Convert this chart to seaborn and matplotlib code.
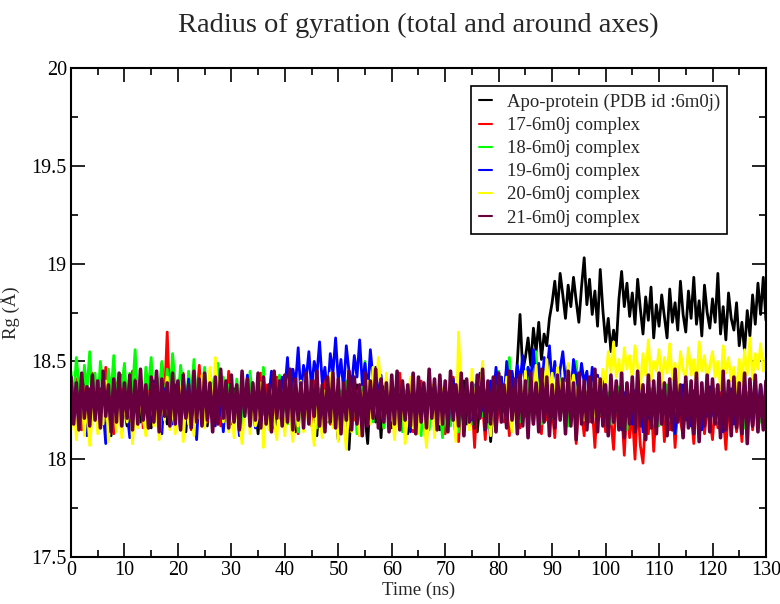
import numpy as np
import pandas as pd
import matplotlib
matplotlib.use("Agg")
import matplotlib.pyplot as plt
from matplotlib.ticker import MultipleLocator
import seaborn as sns

series_names = ["Apo-protein (PDB id :6m0j)", "17-6m0j complex", "18-6m0j complex",
                "19-6m0j complex", "20-6m0j complex", "21-6m0j complex"]
series_colors = ["#000000", "#ff0000", "#00ff00", "#0000ff", "#ffff00", "#680040"]

rg_apo = [
    18.31, 18.22, 18.35, 18.19, 18.28, 18.40, 18.24, 18.15, 18.33, 18.27,
    18.21, 18.36, 18.18, 18.30, 18.25, 18.12, 18.34, 18.29, 18.20, 18.38,
    18.26, 18.17, 18.32, 18.23, 18.41, 18.28, 18.19, 18.35, 18.24, 18.30,
    18.16, 18.33, 18.27, 18.39, 18.22, 18.31, 18.18, 18.36, 18.25, 18.29,
    18.34, 18.21, 18.28, 18.14, 18.37, 18.26, 18.32, 18.19, 18.40, 18.23,
    18.30, 18.17, 18.35, 18.27, 18.22, 18.38, 18.20, 18.33, 18.25, 18.29,
    18.18, 18.36, 18.24, 18.31, 18.15, 18.34, 18.28, 18.21, 18.39, 18.26,
    18.13, 18.30, 18.23, 18.37, 18.19, 18.32, 18.27, 18.16, 18.35, 18.24,
    18.29, 18.20, 18.38, 18.25, 18.14, 18.33, 18.28, 18.22, 18.36, 18.19,
    18.31, 18.26, 18.12, 18.34, 18.23, 18.39, 18.27, 18.18, 18.30, 18.24,
    18.10, 18.33, 18.21, 18.36, 18.05, 18.29, 18.25, 18.38, 18.17, 18.31,
    18.22, 18.08, 18.35, 18.27, 18.19, 18.32, 18.11, 18.37, 18.24, 18.29,
    18.16, 18.34, 18.26, 18.21, 18.39, 18.28, 18.13, 18.33, 18.23, 18.30,
    18.19, 18.36, 18.25, 18.10, 18.31, 18.27, 18.38, 18.22, 18.15, 18.34,
    18.28, 18.20, 18.37, 18.24, 18.12, 18.32, 18.26, 18.40, 18.18, 18.30,
    18.23, 18.35, 18.14, 18.29, 18.38, 18.21, 18.33, 18.09, 18.27, 18.36,
    18.25, 18.42, 18.30, 18.47, 18.36, 18.44, 18.33, 18.50, 18.74, 18.45,
    18.52, 18.62, 18.48, 18.67, 18.55, 18.70, 18.51, 18.64, 18.58, 18.72,
    18.80, 18.91, 18.76, 18.95, 18.84, 18.72, 18.89, 18.78, 18.93, 18.81,
    18.70, 18.88, 19.03, 18.79, 18.92, 18.74, 18.86, 18.68, 18.97, 18.76,
    18.60, 18.72, 18.55, 18.66, 18.58, 18.82, 18.96, 18.78, 18.90, 18.73,
    18.85, 18.69, 18.92, 18.77, 18.64, 18.83, 18.71, 18.88, 18.62, 18.79,
    18.68, 18.84, 18.73, 18.62, 18.87, 18.70, 18.80, 18.66, 18.91, 18.74,
    18.65, 18.86, 18.72, 18.93, 18.69, 18.81, 18.63, 18.89, 18.75, 18.67,
    18.82, 18.70, 18.95, 18.64, 18.78, 18.61, 18.85, 18.72, 18.66, 18.80,
    18.58, 18.70, 18.55, 18.76, 18.63, 18.84, 18.69, 18.90, 18.74, 18.93,
    18.71]

rg_17 = [
    18.33, 18.20, 18.41, 18.26, 18.15, 18.37, 18.29, 18.22, 18.44, 18.31,
    18.18, 18.35, 18.25, 18.47, 18.21, 18.32, 18.13, 18.39, 18.27, 18.43,
    18.24, 18.36, 18.19, 18.45, 18.30, 18.22, 18.40, 18.16, 18.34, 18.28,
    18.46, 18.23, 18.38, 18.20, 18.49, 18.31, 18.65, 18.26, 18.42, 18.18,
    18.35, 18.27, 18.44, 18.21, 18.33, 18.15, 18.39, 18.29, 18.48, 18.24,
    18.36, 18.19, 18.43, 18.28, 18.22, 18.40, 18.17, 18.34, 18.26, 18.45,
    18.30, 18.21, 18.37, 18.14, 18.32, 18.27, 18.41, 18.23, 18.35, 18.18,
    18.29, 18.44, 18.25, 18.38, 18.20, 18.33, 18.16, 18.42, 18.28, 18.24,
    18.36, 18.19, 18.31, 18.46, 18.26, 18.13, 18.39, 18.22, 18.34, 18.29,
    18.17, 18.40, 18.25, 18.35, 18.21, 18.43, 18.30, 18.18, 18.37, 18.27,
    18.33, 18.15, 18.41, 18.24, 18.29, 18.38, 18.20, 18.35, 18.12, 18.31,
    18.26, 18.42, 18.19, 18.34, 18.28, 18.23, 18.39, 18.16, 18.32, 18.27,
    18.37, 18.21, 18.30, 18.44, 18.25, 18.18, 18.36, 18.29, 18.14, 18.33,
    18.22, 18.40, 18.27, 18.11, 18.35, 18.24, 18.31, 18.19, 18.38, 18.26,
    18.13, 18.34, 18.28, 18.42, 18.20, 18.09, 18.32, 18.25, 18.37, 18.17,
    18.30, 18.06, 18.35, 18.23, 18.27, 18.10, 18.39, 18.21, 18.33, 18.14,
    18.28, 18.36, 18.19, 18.31, 18.12, 18.38, 18.24, 18.30, 18.16, 18.34,
    18.22, 18.40, 18.27, 18.18, 18.35, 18.25, 18.13, 18.32, 18.20, 18.37,
    18.26, 18.11, 18.33, 18.23, 18.39, 18.15, 18.29, 18.21, 18.36, 18.08,
    18.30, 18.24, 18.12, 18.34, 18.19, 18.27, 18.06, 18.31, 18.22, 18.35,
    18.14, 18.28, 18.20, 18.05, 18.33, 18.17, 18.26, 18.02, 18.30, 18.11,
    18.24, 18.00, 18.29, 18.07, 17.98, 18.22, 18.13, 18.32, 18.04, 18.27,
    18.18, 18.35, 18.09, 18.25, 18.15, 18.31, 18.06, 18.28, 18.20, 18.12,
    18.33, 18.17, 18.24, 18.08, 18.30, 18.19, 18.36, 18.13, 18.26, 18.21,
    18.10, 18.29, 18.16, 18.34, 18.23, 18.05, 18.27, 18.18, 18.32, 18.14,
    18.25, 18.09, 18.30, 18.20, 18.36, 18.15, 18.28, 18.22, 18.33, 18.17,
    18.26]

rg_18 = [
    18.45, 18.30, 18.52, 18.38, 18.25, 18.48, 18.35, 18.55, 18.31, 18.44,
    18.27, 18.50, 18.36, 18.21, 18.46, 18.33, 18.53, 18.29, 18.42, 18.37,
    18.49, 18.26, 18.44, 18.34, 18.56, 18.30, 18.41, 18.23, 18.47, 18.36,
    18.52, 18.28, 18.43, 18.35, 18.50, 18.24, 18.46, 18.32, 18.54, 18.39,
    18.30, 18.48, 18.37, 18.22, 18.45, 18.33, 18.51, 18.27, 18.40, 18.35,
    18.47, 18.29, 18.44, 18.36, 18.25, 18.49, 18.31, 18.42, 18.26, 18.38,
    18.33, 18.20, 18.41, 18.28, 18.17, 18.36, 18.24, 18.45, 18.30, 18.19,
    18.38, 18.26, 18.47, 18.22, 18.34, 18.15, 18.39, 18.29, 18.43, 18.21,
    18.32, 18.18, 18.40, 18.27, 18.35, 18.14, 18.37, 18.25, 18.30, 18.20,
    18.42, 18.28, 18.16, 18.36, 18.23, 18.33, 18.19, 18.38, 18.26, 18.31,
    18.22, 18.35, 18.17, 18.40, 18.29, 18.24, 18.37, 18.13, 18.32, 18.27,
    18.50, 18.21, 18.34, 18.19, 18.30, 18.25, 18.38, 18.16, 18.33, 18.28,
    18.20, 18.36, 18.23, 18.31, 18.14, 18.35, 18.26, 18.18, 18.39, 18.24,
    18.30, 18.12, 18.34, 18.21, 18.15, 18.29, 18.36, 18.19, 18.27, 18.11,
    18.32, 18.23, 18.17, 18.37, 18.26, 18.14, 18.31, 18.20, 18.35, 18.25,
    18.18, 18.33, 18.28, 18.42, 18.22, 18.30, 18.16, 18.36, 18.24, 18.29,
    18.45, 18.27, 18.38, 18.21, 18.52, 18.31, 18.25, 18.40, 18.19, 18.34,
    18.28, 18.47, 18.23, 18.36, 18.55, 18.30, 18.18, 18.39, 18.26, 18.33,
    18.21, 18.37, 18.29, 18.44, 18.24, 18.32, 18.17, 18.35, 18.27, 18.50,
    18.30, 18.22, 18.38, 18.25, 18.33, 18.19, 18.36, 18.28, 18.23, 18.31,
    18.26, 18.34, 18.18, 18.30, 18.24, 18.37, 18.21, 18.29, 18.15, 18.33,
    18.27, 18.20, 18.35, 18.23, 18.31, 18.14, 18.28, 18.36, 18.22, 18.30,
    18.17, 18.33, 18.25, 18.38, 18.20, 18.29, 18.13, 18.34, 18.26, 18.21,
    18.32, 18.18, 18.37, 18.24, 18.28, 18.16, 18.35, 18.22, 18.30, 18.19,
    18.27, 18.36, 18.20, 18.31, 18.15, 18.33, 18.25, 18.29, 18.18, 18.35,
    18.23, 18.30, 18.16, 18.34, 18.26, 18.21, 18.37, 18.28, 18.19, 18.32,
    18.25]

rg_19 = [
    18.42, 18.25, 18.38, 18.16, 18.33, 18.27, 18.12, 18.36, 18.22, 18.30,
    18.18, 18.34, 18.26, 18.08, 18.31, 18.23, 18.39, 18.20, 18.29, 18.14,
    18.35, 18.24, 18.11, 18.32, 18.27, 18.19, 18.37, 18.22, 18.30, 18.16,
    18.28, 18.40, 18.21, 18.33, 18.13, 18.36, 18.25, 18.31, 18.18, 18.38,
    18.26, 18.15, 18.34, 18.22, 18.41, 18.19, 18.30, 18.10, 18.35, 18.27,
    18.21, 18.37, 18.24, 18.32, 18.17, 18.39, 18.28, 18.14, 18.33, 18.25,
    18.38, 18.20, 18.31, 18.12, 18.35, 18.26, 18.43, 18.22, 18.29, 18.16,
    18.34, 18.24, 18.40, 18.19, 18.31, 18.45, 18.27, 18.36, 18.21, 18.42,
    18.35, 18.52, 18.30, 18.46, 18.38, 18.57, 18.33, 18.48, 18.41, 18.55,
    18.36, 18.50, 18.43, 18.60, 18.39, 18.47, 18.32, 18.54, 18.44, 18.62,
    18.40, 18.51, 18.35, 18.58, 18.45, 18.37, 18.53, 18.42, 18.61, 18.38,
    18.49, 18.34, 18.56, 18.41, 18.47, 18.31, 18.43, 18.27, 18.36, 18.22,
    18.33, 18.18, 18.30, 18.25, 18.37, 18.20, 18.29, 18.14, 18.34, 18.26,
    18.21, 18.36, 18.28, 18.17, 18.32, 18.24, 18.39, 18.19, 18.30, 18.23,
    18.35, 18.16, 18.29, 18.41, 18.22, 18.33, 18.26, 18.18, 18.37, 18.27,
    18.20, 18.38, 18.31, 18.44, 18.25, 18.35, 18.19, 18.40, 18.29, 18.47,
    18.33, 18.42, 18.27, 18.50, 18.36, 18.45, 18.30, 18.48, 18.39, 18.53,
    18.34, 18.47, 18.41, 18.56, 18.37, 18.49, 18.32, 18.52, 18.43, 18.58,
    18.38, 18.50, 18.35, 18.46, 18.55, 18.40, 18.48, 18.33, 18.51, 18.42,
    18.36, 18.49, 18.39, 18.45, 18.30, 18.47, 18.37, 18.43, 18.28, 18.40,
    18.32, 18.24, 18.36, 18.19, 18.30, 18.27, 18.15, 18.34, 18.22, 18.29,
    18.18, 18.35, 18.25, 18.31, 18.14, 18.33, 18.21, 18.28, 18.37, 18.16,
    18.30, 18.23, 18.36, 18.19, 18.27, 18.34, 18.13, 18.31, 18.24, 18.38,
    18.20, 18.29, 18.17, 18.35, 18.26, 18.32, 18.15, 18.28, 18.22, 18.37,
    18.25, 18.19, 18.33, 18.27, 18.14, 18.30, 18.23, 18.36, 18.18, 18.29,
    18.34, 18.21, 18.40, 18.26, 18.31, 18.17, 18.35, 18.24, 18.38, 18.28,
    18.30]

rg_20 = [
    18.15, 18.32, 18.10, 18.26, 18.38, 18.12, 18.29, 18.07, 18.22, 18.35,
    18.13, 18.28, 18.18, 18.40, 18.09, 18.24, 18.33, 18.14, 18.27, 18.11,
    18.31, 18.19, 18.36, 18.08, 18.25, 18.16, 18.34, 18.21, 18.12, 18.29,
    18.38, 18.17, 18.26, 18.10, 18.32, 18.20, 18.42, 18.15, 18.28, 18.13,
    18.24, 18.37, 18.09, 18.30, 18.18, 18.26, 18.12, 18.35, 18.21, 18.43,
    18.16, 18.29, 18.47, 18.22, 18.52, 18.31, 18.45, 18.19, 18.38, 18.14,
    18.27, 18.11, 18.33, 18.20, 18.08, 18.25, 18.36, 18.13, 18.30, 18.17,
    18.22, 18.39, 18.06, 18.28, 18.15, 18.34, 18.19, 18.10, 18.31, 18.24,
    18.12, 18.36, 18.21, 18.09, 18.29, 18.17, 18.40, 18.14, 18.26, 18.33,
    18.18, 18.07, 18.30, 18.23, 18.11, 18.35, 18.20, 18.44, 18.16, 18.27,
    18.09, 18.32, 18.19, 18.05, 18.28, 18.14, 18.37, 18.21, 18.12, 18.34,
    18.25, 18.40, 18.18, 18.47, 18.30, 18.52, 18.36, 18.22, 18.44, 18.15,
    18.31, 18.10, 18.27, 18.19, 18.35, 18.08, 18.24, 18.42, 18.16, 18.29,
    18.13, 18.33, 18.21, 18.06, 18.26, 18.38, 18.11, 18.30, 18.18, 18.36,
    18.23, 18.14, 18.41, 18.28, 18.09, 18.65, 18.32, 18.20, 18.37, 18.15,
    18.46, 18.27, 18.40, 18.33, 18.50, 18.21, 18.38, 18.12, 18.30, 18.24,
    18.35, 18.19, 18.28, 18.42, 18.25, 18.14, 18.32, 18.20, 18.37, 18.29,
    18.45, 18.22, 18.38, 18.31, 18.48, 18.26, 18.42, 18.35, 18.51, 18.33,
    18.44, 18.29, 18.47, 18.36, 18.40, 18.27, 18.49, 18.34, 18.43, 18.30,
    18.38, 18.25, 18.20, 18.33, 18.28, 18.36, 18.22, 18.41, 18.31, 18.46,
    18.39, 18.55, 18.44, 18.60, 18.42, 18.51, 18.37, 18.57, 18.46, 18.53,
    18.41, 18.58, 18.47, 18.36, 18.54, 18.43, 18.61, 18.40, 18.50, 18.45,
    18.56, 18.38, 18.52, 18.44, 18.59, 18.41, 18.49, 18.35, 18.55, 18.46,
    18.40, 18.57, 18.43, 18.51, 18.37, 18.60, 18.45, 18.53, 18.39, 18.48,
    18.55, 18.42, 18.50, 18.36, 18.58, 18.44, 18.52, 18.40, 18.47, 18.34,
    18.51, 18.38, 18.56, 18.43, 18.62, 18.41, 18.54, 18.46, 18.59, 18.45,
    18.52]

rg_21 = [
    18.42, 18.18, 18.39, 18.15, 18.44, 18.21, 18.37, 18.17, 18.43, 18.20,
    18.40, 18.16, 18.45, 18.22, 18.38, 18.14, 18.41, 18.19, 18.44, 18.17,
    18.39, 18.21, 18.43, 18.15, 18.40, 18.18, 18.46, 18.20, 18.38, 18.16,
    18.42, 18.19, 18.45, 18.14, 18.41, 18.22, 18.39, 18.17, 18.44, 18.18,
    18.40, 18.15, 18.43, 18.21, 18.38, 18.16, 18.45, 18.19, 18.41, 18.17,
    18.44, 18.20, 18.39, 18.14, 18.42, 18.18, 18.46, 18.21, 18.40, 18.16,
    18.43, 18.19, 18.38, 18.15, 18.45, 18.22, 18.41, 18.17, 18.39, 18.20,
    18.44, 18.16, 18.42, 18.18, 18.38, 18.14, 18.45, 18.21, 18.40, 18.17,
    18.43, 18.19, 18.46, 18.15, 18.41, 18.20, 18.39, 18.16, 18.44, 18.18,
    18.40, 18.22, 18.45, 18.17, 18.38, 18.14, 18.42, 18.19, 18.44, 18.16,
    18.41, 18.13, 18.39, 18.20, 18.45, 18.15, 18.42, 18.18, 18.38, 18.12,
    18.44, 18.17, 18.40, 18.21, 18.46, 18.16, 18.41, 18.19, 18.39, 18.14,
    18.43, 18.18, 18.45, 18.15, 18.40, 18.20, 18.38, 18.17, 18.44, 18.13,
    18.42, 18.19, 18.39, 18.16, 18.46, 18.21, 18.41, 18.15, 18.43, 18.18,
    18.40, 18.14, 18.45, 18.20, 18.38, 18.17, 18.44, 18.12, 18.41, 18.19,
    18.39, 18.16, 18.43, 18.21, 18.46, 18.15, 18.40, 18.18, 18.42, 18.14,
    18.44, 18.19, 18.38, 18.16, 18.45, 18.20, 18.41, 18.13, 18.43, 18.17,
    18.40, 18.11, 18.44, 18.18, 18.39, 18.14, 18.46, 18.19, 18.42, 18.12,
    18.38, 18.16, 18.43, 18.20, 18.41, 18.13, 18.45, 18.17, 18.39, 18.10,
    18.44, 18.18, 18.40, 18.15, 18.42, 18.19, 18.46, 18.14, 18.41, 18.17,
    18.38, 18.12, 18.43, 18.19, 18.40, 18.15, 18.44, 18.11, 18.39, 18.18,
    18.42, 18.14, 18.45, 18.17, 18.38, 18.10, 18.43, 18.16, 18.40, 18.13,
    18.44, 18.18, 18.39, 18.12, 18.41, 18.15, 18.46, 18.19, 18.38, 18.11,
    18.42, 18.16, 18.40, 18.13, 18.44, 18.09, 18.39, 18.17, 18.43, 18.14,
    18.41, 18.18, 18.38, 18.11, 18.45, 18.15, 18.40, 18.12, 18.42, 18.16,
    18.39, 18.13, 18.44, 18.08, 18.41, 18.17, 18.43, 18.14, 18.38, 18.15,
    18.40]

all_series = [rg_apo, rg_17, rg_18, rg_19, rg_20, rg_21]

frames = []
for name, vals in zip(series_names, all_series):
    t = np.linspace(0, 130, len(vals))
    frames.append(pd.DataFrame({"Time": t, "Rg": vals, "System": name}))
df = pd.concat(frames, ignore_index=True)

sns.set_style("ticks")
plt.rcParams["font.family"] = ["Liberation Serif", "DejaVu Serif"]

fig = plt.figure(figsize=(7.8, 6.04), dpi=100)
ax = fig.add_axes([0.091, 0.0778, 0.891, 0.8096])

sns.lineplot(data=df, x="Time", y="Rg", hue="System", hue_order=series_names,
             palette=dict(zip(series_names, series_colors)), estimator=None,
             sort=False, linewidth=2.0, ax=ax)
ax.lines[len(series_names) - 1].set_linewidth(2.6)

ax.set_xlim(0, 130)
ax.set_ylim(17.5, 20)
ax.xaxis.set_major_locator(MultipleLocator(10))
ax.xaxis.set_minor_locator(MultipleLocator(5))
ax.yaxis.set_minor_locator(MultipleLocator(0.25))
ax.set_yticks([17.5, 18, 18.5, 19, 19.5, 20])
ax.set_yticklabels(["17.5", "18", "18.5", "19", "19.5", "20"])
ax.tick_params(which="both", direction="in", top=True, right=True, width=1.2,
               labelsize=14.5, colors="black", pad=3)
ax.tick_params(which="major", length=10)
ax.tick_params(which="minor", length=5)
for s in ax.spines.values():
    s.set_linewidth(1.5)
    s.set_color("black")

ax.set_xlabel("Time (ns)", fontsize=13.5, labelpad=1)
ax.set_ylabel("Rg (Å)", fontsize=13.5, labelpad=8)
ax.set_title("Radius of gyration (total and around axes)", fontsize=20.5, pad=26)

leg = ax.legend(loc="upper right", bbox_to_anchor=(0.958, 0.982), fontsize=13.5,
                handlelength=0.7, handletextpad=0.8, borderpad=0.4,
                labelspacing=0.32, fancybox=False, framealpha=1, edgecolor="black")
leg.get_frame().set_linewidth(1.2)
for line in leg.get_lines():
    line.set_linewidth(1.5)

fig.savefig("out.png", dpi=100)
